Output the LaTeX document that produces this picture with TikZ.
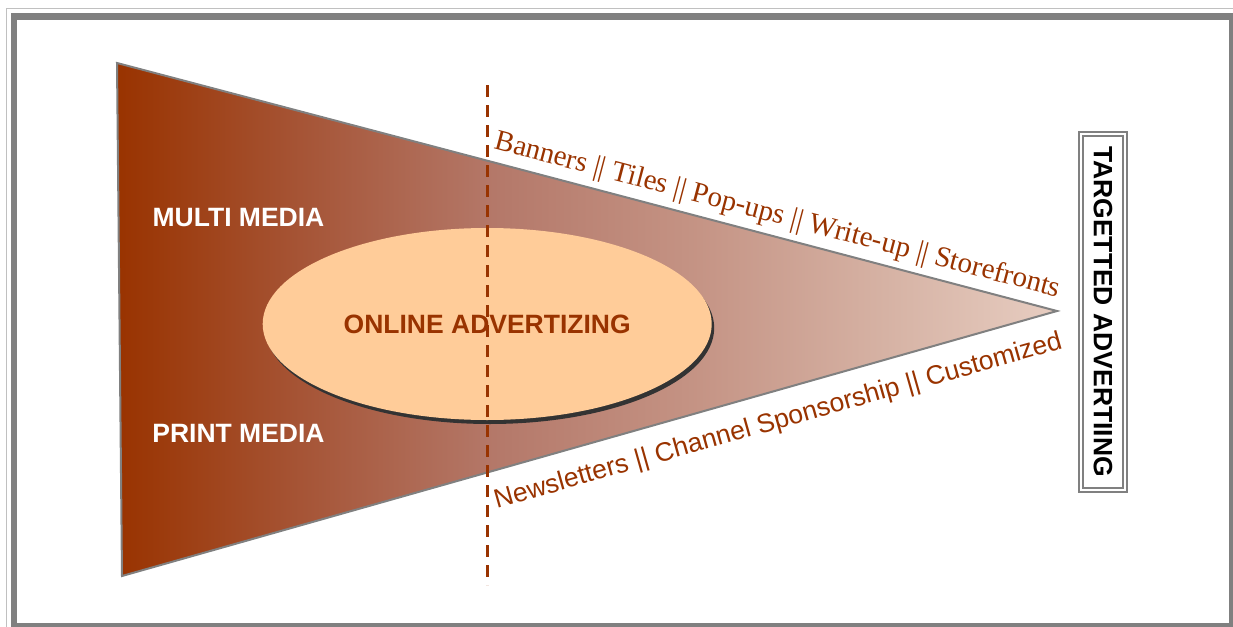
\documentclass[tikz,border=0pt]{standalone}
\usepackage{fontspec}
\setmainfont{Liberation Sans}
\newfontfamily\serifface{Liberation Serif}
\usetikzlibrary{shapes.geometric,shadows}
\definecolor{rust}{RGB}{153,51,0}
\definecolor{rust-a}{RGB}{166,85,55}
\definecolor{rust-b}{RGB}{180,120,105}
\definecolor{rust-c}{RGB}{197,148,133}
\definecolor{rust-d}{RGB}{215,180,166}
\definecolor{rust-e}{RGB}{231,205,193}
\definecolor{peach}{RGB}{255,204,153}
\definecolor{framegray}{RGB}{128,128,128}
\definecolor{palegray}{RGB}{192,192,192}
\newcommand\bigsize{\fontsize{26.5}{30}\selectfont}
% fade of the funnel, stretched over 25bp..75bp
\pgfdeclarehorizontalshading{funnel fade}{100bp}{
color(0bp)=(rust); color(25bp)=(rust); color(35bp)=(rust-a);
color(45bp)=(rust-b); color(56bp)=(rust-c); color(66.5bp)=(rust-d);
color(75bp)=(rust-e); color(100bp)=(rust-e)}

\tikzset{
media label/.style={text=white,font=\bfseries\bigsize,inner sep=0pt},
channel label/.style={text=rust,font=\bigsize,sloped,inner sep=0pt},
online/.style={
ellipse,fill=peach,minimum width=449pt,minimum height=192pt,inner sep=0pt,
text=rust,font=\bfseries\bigsize,
drop shadow={shadow xshift=2.5pt,shadow yshift=-4pt,fill=black!80,opacity=1}
},
target box/.style={
draw=framegray,line width=2pt,double=white,double distance=2pt,
rotate=-90,minimum width=356pt,minimum height=44pt,inner sep=0pt,
font=\bfseries\bigsize
},
}

\begin{document}
\begin{tikzpicture}[x=1pt,y=-1pt]
\useasboundingbox (0,0) rectangle (1233,626);
% frame
\draw[palegray,line width=1.5pt] (6.5,8.5) rectangle (1245,640);
\draw[framegray,line width=6.5pt] (14,16.5) rectangle (1232.3,626.5);
% funnel
\coordinate (wide-top) at (117,63);
\coordinate (wide-bottom) at (122,576);
\coordinate (tip) at (1057,311);
\draw[framegray,line width=2pt,shading=funnel fade]
(wide-top) -- (tip) -- (wide-bottom) -- cycle;
\node[online] (online) at (487.2,324) {ONLINE ADVERTIZING};
% cut line
\coordinate (cut-top) at (487,85);
\coordinate (cut-bottom) at (487,585);
\draw[rust,line width=3pt,dash pattern=on 12pt off 8pt] (cut-top) -- (cut-bottom);
\foreach \y/\txt in {218/MULTI MEDIA,433/PRINT MEDIA} {
\node[media label] (media-\y) at (238.5,\y) {\txt};
}
% channels along the edges
\path (wide-top) -- (tip)
node[channel label,pos=.697,above,inner ysep=7pt,font=\serifface\fontsize{29}{33}\selectfont] (upper)
{Banners || Tiles || Pop-ups || Write-up || Storefronts};
\path (wide-bottom) -- (tip)
node[channel label,pos=.693,below,inner ysep=18pt] (lower)
{Newsletters || Channel Sponsorship || Customized};
\node[target box] (targeted) at (1103,311.5) {TARGETTED ADVERTIING};
\end{tikzpicture}
\end{document}
